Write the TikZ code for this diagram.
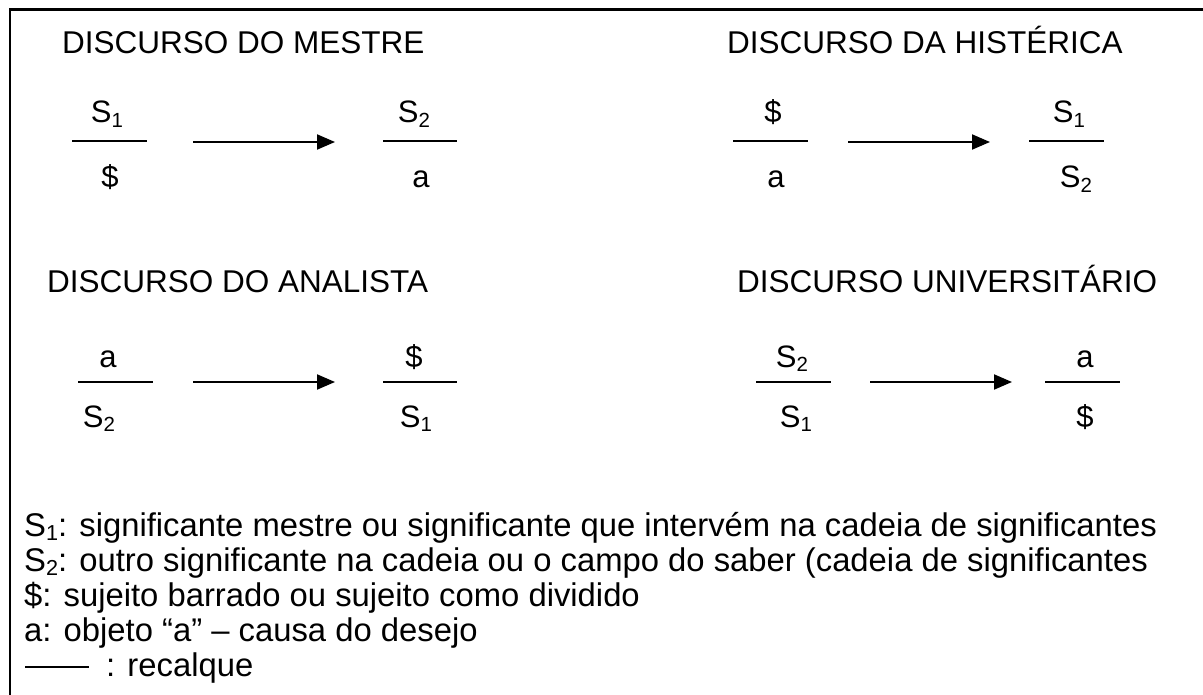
\documentclass[tikz,border=0pt]{standalone}
\usepackage{fontspec}
\usepackage{graphicx}
\setmainfont{Liberation Sans}
\usetikzlibrary{arrows.meta}
\newcommand{\lowidx}[1]{\raisebox{-0.13em}{\scalebox{0.66}{#1}}}
\begin{document}
\begin{tikzpicture}[x=1pt,y=-1pt,
  title/.style={font=\fontsize{31.5}{36}\selectfont, anchor=base west, inner sep=0pt},
  sym/.style={font=\fontsize{31}{34}\selectfont, anchor=base, inner sep=0pt},
  legend/.style={font=\fontsize{32.8}{36}\selectfont, anchor=base west, inner sep=0pt},
  bar/.style={line width=2pt},
  arr/.style={line width=2pt, -{Triangle[length=18pt,width=15pt]}},
  frameline/.style={line width=2.5pt}]
\useasboundingbox (0,0) rectangle (1203,695);
% frame (only top and left edges visible)
\coordinate (fb) at (10,720);
\coordinate (fc) at (10,9.5);
\coordinate (fr) at (1230,9.5);
\draw[frameline] (fb) -- (fc) -- (fr);

% titles
\node[title] (t1) at (62,54) {DISCURSO DO MESTRE};
\node[title] (t2) at (727,54) {DISCURSO DA HISTÉRICA};
\node[title] (t3) at (47,293) {DISCURSO DO ANALISTA};
\node[title] (t4) at (737,293) {DISCURSO UNIVERSITÁRIO};

% ---- row 1
% A
\node[sym] (An) at (107,123) {S\lowidx{1}};
\node[sym] (Ad) at (110,188) {\$};
\coordinate (Al) at (72,141); \coordinate (Ar) at (147,141);
\draw[bar] (Al) -- (Ar);
% arrow 1
\coordinate (a1s) at (193,142); \coordinate (a1e) at (335,142);
\draw[arr] (a1s) -- (a1e);
% B
\node[sym] (Bn) at (414,123) {S\lowidx{2}};
\node[sym] (Bd) at (421,188) {a};
\coordinate (Bl) at (383,141); \coordinate (Br) at (457,141);
\draw[bar] (Bl) -- (Br);
% C
\node[sym] (Cn) at (773,123) {\$};
\node[sym] (Cd) at (776,188) {a};
\coordinate (Cl) at (733,141); \coordinate (Cr) at (808,141);
\draw[bar] (Cl) -- (Cr);
% arrow 2
\coordinate (a2s) at (848,142); \coordinate (a2e) at (990,142);
\draw[arr] (a2s) -- (a2e);
% D
\node[sym] (Dn) at (1069,123) {S\lowidx{1}};
\node[sym] (Dd) at (1076,188) {S\lowidx{2}};
\coordinate (Dl) at (1029,141); \coordinate (Dr) at (1104,141);
\draw[bar] (Dl) -- (Dr);

% ---- row 2
% E
\node[sym] (En) at (108,367) {a};
\node[sym] (Ed) at (99,427) {S\lowidx{2}};
\coordinate (El) at (78,382); \coordinate (Er) at (153,382);
\draw[bar] (El) -- (Er);
% arrow 3
\coordinate (a3s) at (193,382); \coordinate (a3e) at (335,382);
\draw[arr] (a3s) -- (a3e);
% F
\node[sym] (Fn) at (414,367) {\$};
\node[sym] (Fd) at (416,427) {S\lowidx{1}};
\coordinate (Fl) at (383,382); \coordinate (Fr) at (457,382);
\draw[bar] (Fl) -- (Fr);
% G
\node[sym] (Gn) at (792,367) {S\lowidx{2}};
\node[sym] (Gd) at (796,427) {S\lowidx{1}};
\coordinate (Gl) at (756,382); \coordinate (Gr) at (831,382);
\draw[bar] (Gl) -- (Gr);
% arrow 4
\coordinate (a4s) at (870,382); \coordinate (a4e) at (1012,382);
\draw[arr] (a4s) -- (a4e);
% H
\node[sym] (Hn) at (1085,367) {a};
\node[sym] (Hd) at (1085,427) {\$};
\coordinate (Hl) at (1045,382); \coordinate (Hr) at (1120,382);
\draw[bar] (Hl) -- (Hr);

% ---- legend
\node[legend] (L1) at (24,536) {S\lowidx{1}: significante mestre ou significante que intervém na cadeia de significantes};
\node[legend] (L2) at (24,571) {S\lowidx{2}: outro significante na cadeia ou o campo do saber (cadeia de significantes};
\node[legend] (L3) at (24,606) {\$: sujeito barrado ou sujeito como dividido};
\node[legend] (L4) at (24,641) {a: objeto “a” – causa do desejo};
\coordinate (rl) at (25,667); \coordinate (rr) at (89,667);
\draw[line width=1.5pt] (rl) -- (rr);
\node[legend] (L5) at (106,676) {: recalque};
\end{tikzpicture}
\end{document}
